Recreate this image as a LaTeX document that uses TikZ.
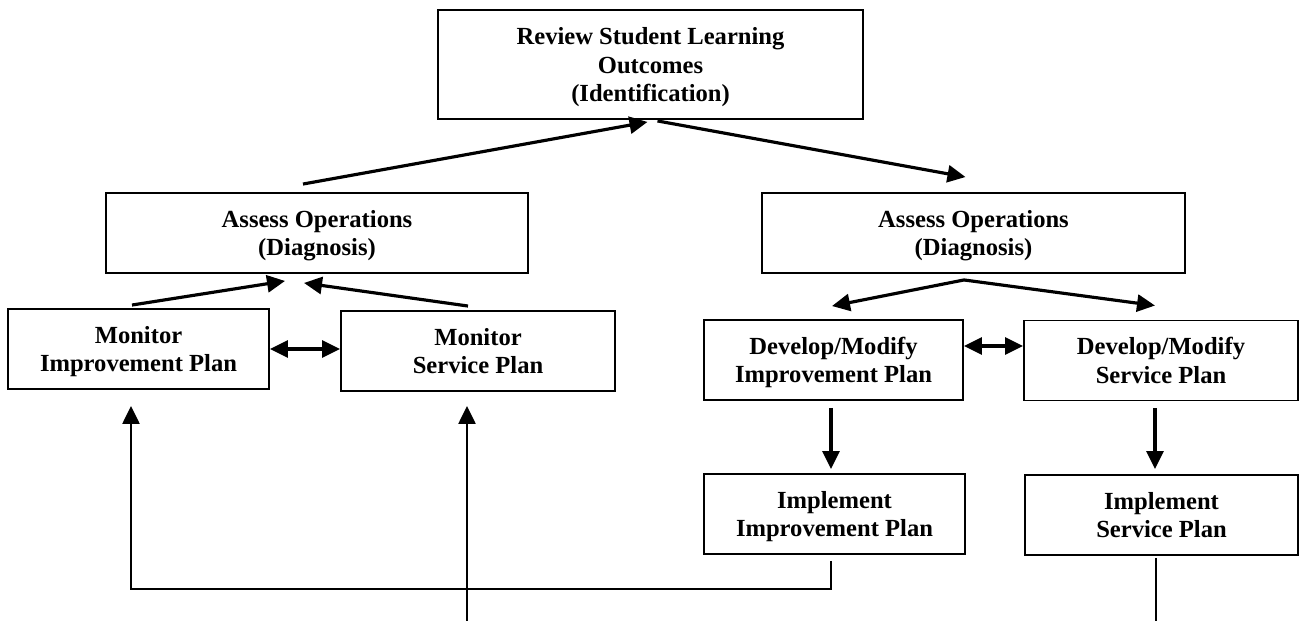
\documentclass[tikz,border=0pt]{standalone}
\usepackage{fontspec}
\setmainfont{Liberation Serif}
\usetikzlibrary{calc,arrows.meta}

\begin{document}
\begin{tikzpicture}[x=0.02cm, y=-0.02cm,
    box/.style={draw, line width=1.1pt, inner sep=0pt, align=center,
        font=\fontsize{14}{16.3}\selectfont\bfseries, minimum height=1.6cm,
        text depth=-2pt},
    arr/.style={line width=1.8pt, -{Triangle[length=0.36cm,width=0.34cm]}},
    dbl/.style={line width=1.8pt, {Triangle[length=0.36cm,width=0.34cm]}-{Triangle[length=0.36cm,width=0.34cm]}},
    back/.style={line width=1.4pt, -{Triangle[length=0.36cm,width=0.34cm]}}]
    \path[fill=white, use as bounding box] (0,0) rectangle (1299,621);

    \node[box, minimum width=8.5cm, minimum height=2.18cm] (review) at (650.5,64.5)
        {Review Student Learning\\Outcomes\\(Identification)};
    \node[box, minimum width=8.44cm] (assessL) at (317,233) {Assess Operations\\(Diagnosis)};
    \node[box, minimum width=8.46cm] (assessR) at (973.5,233) {Assess Operations\\(Diagnosis)};
    \node[box, minimum width=5.22cm] (monImp) at (138.5,349) {Monitor\\Improvement Plan};
    \node[box, minimum width=5.48cm] (monSrv) at (478,351) {Monitor\\Service Plan};
    \node[box, minimum width=5.18cm] (devImp) at (833.5,360) {Develop/Modify\\Improvement Plan};
    \node[box, minimum width=5.48cm] (devSrv) at (1161,360.5) {Develop/Modify\\Service Plan};
    \node[box, minimum width=5.22cm] (impImp) at (834.5,514) {Implement\\Improvement Plan};
    \node[box, minimum width=5.46cm] (impSrv) at (1161.5,515) {Implement\\Service Plan};

    \coordinate (fork) at ($(assessR.south)+(-9.5,6)$);
    \coordinate (srvIn) at (467,621);
    \coordinate (srvOut) at (1156,621);

    \draw[arr] ($(assessL.north)+(-14,-8)$) -- ($(review.south)+(-3,2)$);
    \draw[arr] ($(review.south)+(7,1)$) -- ($(assessR.north)+(-8,-15)$);
    \draw[arr] ($(monImp.north)+(-6.5,-3)$) -- ($(assessL.south)+(-32,7)$);
    \draw[arr] ($(monSrv.north)+(-10,-4)$) -- ($(assessL.south)+(-13,9)$);
    \draw[dbl] (monImp.east) -- (monImp.east -| monSrv.west);
    \draw[arr] (fork) -- ($(devImp.north)+(-1.5,-13)$);
    \draw[arr] (fork) -- ($(devSrv.north)+(-6,-14)$);
    \draw[dbl] ($(devImp.east)+(0,-14)$) -- ($(devSrv.west)+(0,-14.5)$);
    \draw[arr] ($(devImp.south)+(-2.5,7)$) -- ($(impImp.north)+(-3.5,-4)$);
    \draw[arr] ($(devSrv.south)+(-6,7)$) -- ($(impSrv.north)+(-6.5,-5)$);
    \draw[back] ($(impImp.south)+(-3.5,6)$) -- ++(0,28) -| ($(monImp.south)+(-7.5,16)$);
    \draw[back] (srvIn) -- ($(monSrv.south)+(-11,14)$);
    \draw[line width=0.85pt] ($(impSrv.south)+(-5.5,2)$) -- (srvOut);
\end{tikzpicture}
\end{document}
